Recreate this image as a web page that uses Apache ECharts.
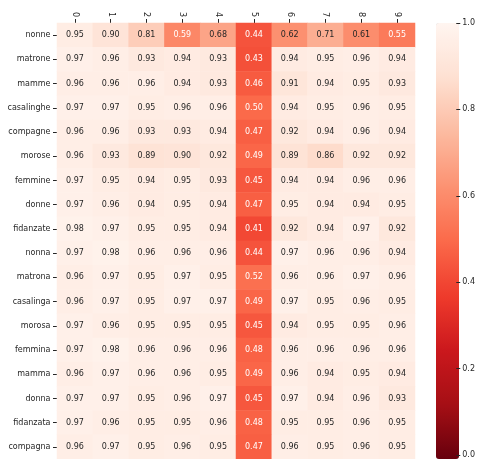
<!DOCTYPE html>
<html>
<head>
<meta charset="utf-8">
<script src="https://cdn.jsdelivr.net/npm/echarts@6/dist/echarts.min.js"></script>
<style>
  html, body { margin: 0; padding: 0; background: #fff; }
  #chart { width: 478px; height: 459px; }
</style>
</head>
<body>
<div id="chart"></div>
<script>
// columns (top axis) and rows (left axis)
var cols = ['0', '1', '2', '3', '4', '5', '6', '7', '8', '9'];
var rows = ['nonne', 'matrone', 'mamme', 'casalinghe', 'compagne', 'morose', 'femmine', 'donne',
    'fidanzate', 'nonna', 'matrona', 'casalinga', 'morosa', 'femmina', 'mamma', 'donna',
    'fidanzata', 'compagna'];
// one row of values per word, in column order
var values = [
    [0.95, 0.90, 0.81, 0.59, 0.68, 0.44, 0.62, 0.71, 0.61, 0.55],
    [0.97, 0.96, 0.93, 0.94, 0.93, 0.43, 0.94, 0.95, 0.96, 0.94],
    [0.96, 0.96, 0.96, 0.94, 0.93, 0.46, 0.91, 0.94, 0.95, 0.93],
    [0.97, 0.97, 0.95, 0.96, 0.96, 0.50, 0.94, 0.95, 0.96, 0.95],
    [0.96, 0.96, 0.93, 0.93, 0.94, 0.47, 0.92, 0.94, 0.96, 0.94],
    [0.96, 0.93, 0.89, 0.90, 0.92, 0.49, 0.89, 0.86, 0.92, 0.92],
    [0.97, 0.95, 0.94, 0.95, 0.93, 0.45, 0.94, 0.94, 0.96, 0.96],
    [0.97, 0.96, 0.94, 0.95, 0.94, 0.47, 0.95, 0.94, 0.94, 0.95],
    [0.98, 0.97, 0.95, 0.95, 0.94, 0.41, 0.92, 0.94, 0.97, 0.92],
    [0.97, 0.98, 0.96, 0.96, 0.96, 0.44, 0.97, 0.96, 0.96, 0.94],
    [0.96, 0.97, 0.95, 0.97, 0.95, 0.52, 0.96, 0.96, 0.97, 0.96],
    [0.96, 0.97, 0.95, 0.97, 0.97, 0.49, 0.97, 0.95, 0.96, 0.95],
    [0.97, 0.96, 0.95, 0.95, 0.95, 0.45, 0.94, 0.95, 0.95, 0.96],
    [0.97, 0.98, 0.96, 0.96, 0.96, 0.48, 0.96, 0.96, 0.96, 0.96],
    [0.96, 0.97, 0.96, 0.96, 0.95, 0.49, 0.96, 0.94, 0.95, 0.94],
    [0.97, 0.97, 0.95, 0.96, 0.97, 0.45, 0.97, 0.94, 0.96, 0.93],
    [0.97, 0.96, 0.95, 0.95, 0.96, 0.48, 0.95, 0.95, 0.96, 0.95],
    [0.96, 0.97, 0.95, 0.96, 0.95, 0.47, 0.96, 0.95, 0.96, 0.95]
];
var barTicks = [0, 0.2, 0.4, 0.6, 0.8, 1.0];

// Reds reversed
var redsR = ['#67000d', '#a50f15', '#cb181d', '#ef3b2c', '#fb6a4a', '#fc9272', '#fcbba1', '#fee0d2', '#fff5f0'];
var font = 'DejaVu Sans';
var ink = '#262626';

var cells = [];
rows.forEach(function (r, i) {
    values[i].forEach(function (v, j) {
        cells.push({
            value: [j, i, v],
            label: { color: v < 0.6 ? '#ffffff' : ink }
        });
    });
});

var tick = { show: true, alignWithLabel: true, length: 4, lineStyle: { color: ink, width: 1 } };

var chart = echarts.init(document.getElementById('chart'));
chart.setOption({
    animation: false,
    grid: [
        { left: 57, top: 23, width: 358, height: 436 },
        { left: 436, top: 23, width: 23, height: 436 }
    ],
    xAxis: [
        {
            type: 'category',
            data: cols,
            position: 'top',
            axisLine: { show: false },
            axisTick: tick,
            axisLabel: { rotate: 90, margin: 6, fontSize: 8, fontFamily: font, color: ink },
            splitLine: { show: false }
        },
        { gridIndex: 1, type: 'value', min: 0, max: 1, show: false }
    ],
    yAxis: [
        {
            type: 'category',
            data: rows,
            inverse: true,
            axisLine: { show: false },
            axisTick: tick,
            axisLabel: { margin: 6.5, fontSize: 8, fontFamily: font, color: ink },
            splitLine: { show: false }
        },
        {
            gridIndex: 1,
            type: 'value',
            position: 'right',
            z: 10,
            min: barTicks[0],
            max: barTicks[barTicks.length - 1],
            interval: 0.2,
            axisLine: { show: false, onZero: false },
            splitLine: { show: false },
            axisTick: { show: true, inside: false, length: 4, lineStyle: { color: ink, width: 1 } },
            axisLabel: {
                margin: 6, fontSize: 8, fontFamily: font, color: ink,
                formatter: function (v) { return v.toFixed(1); }
            }
        }
    ],
    visualMap: {
        type: 'continuous',
        seriesIndex: 0,
        min: 0,
        max: 1,
        calculable: false,
        showLabel: false,
        text: null,
        left: 436,
        top: 23,
        padding: 0,
        itemWidth: 23,
        itemHeight: 436,
        inRange: { color: redsR }
    },
    series: [
        {
            type: 'heatmap',
            data: cells,
            itemStyle: { borderWidth: 0 },
            label: {
                show: true,
                fontSize: 8,
                fontFamily: font,
                formatter: function (p) { return p.value[2].toFixed(2); }
            },
            emphasis: { disabled: true }
        },
        { type: 'scatter', xAxisIndex: 1, yAxisIndex: 1, data: [[0.5, 0.5]], symbolSize: 0, silent: true }
    ]
});
</script>
</body>
</html>
